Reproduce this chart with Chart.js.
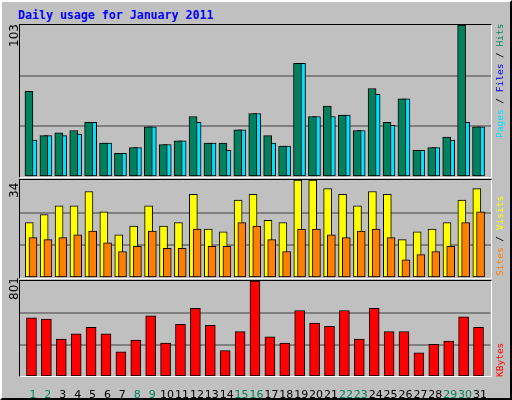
<!DOCTYPE html>
<html><head><meta charset="utf-8">
<script src="https://cdn.jsdelivr.net/npm/chart.js@4"></script>
<style>
html,body{margin:0;padding:0;background:#C0C0C0;}
#wrap{position:relative;width:508px;height:396px;border:2px solid;border-color:#fff #000 #000 #fff;background:#C0C0C0;overflow:hidden}
.panel{position:absolute;}
.rot{position:absolute;transform-origin:0 0;transform:rotate(-90deg);white-space:nowrap;line-height:1}
.frame{position:absolute;border-style:solid;border-width:1px;border-color:#000 #fff #fff #000;box-sizing:border-box;pointer-events:none}
</style></head><body>
<div id="wrap">
<div style="position:absolute;left:16px;top:6px;font:bold 11.6px 'DejaVu Sans Mono';color:#0000FF">Daily usage for January 2011</div>
<div class="panel" style="left:18px;top:23px;width:471px;height:152px"><canvas id="c1"></canvas></div>
<div class="panel" style="left:18px;top:178px;width:471px;height:98px"><canvas id="c2"></canvas></div>
<div class="panel" style="left:18px;top:279px;width:471px;height:119px"><canvas id="c3"></canvas></div>
<div class="frame" style="left:17px;top:22px;width:473px;height:154px"></div>
<div class="frame" style="left:17px;top:177px;width:473px;height:100px"></div>
<div class="frame" style="left:17px;top:278px;width:473px;height:97px"></div>
<div class="rot" style="left:5px;top:45px;font:12px 'DejaVu Sans';color:#000">103</div>
<div class="rot" style="left:5px;top:196px;font:12px 'DejaVu Sans';color:#000">34</div>
<div class="rot" style="left:5px;top:298px;font:12px 'DejaVu Sans';color:#000">801</div>
<div class="rot" style="left:492px;top:136px;font:9.5px 'DejaVu Sans Mono'"><span style="color:#00E0FF">Pages</span><span style="color:#000"> / </span><span style="color:#0000FF">Files</span><span style="color:#000"> / </span><span style="color:#00805C">Hits</span></div>
<div class="rot" style="left:492px;top:274px;font:9.5px 'DejaVu Sans Mono'"><span style="color:#FF8000">Sites</span><span style="color:#000"> / </span><span style="color:#FFFF00">Visits</span></div>
<div class="rot" style="left:492px;top:375px;font:9.5px 'DejaVu Sans Mono';color:#FF0000">KBytes</div>
</div>
<script>
const days=['1','2','3','4','5','6','7','8','9','10','11','12','13','14','15','16','17','18','19','20','21','22','23','24','25','26','27','28','29','30','31'];
const weekend=[1,2,8,9,15,16,22,23,29,30];
const hits=[58,28,30,31.5,37,23,16,20,34,22,24.5,41,23,23,32,43,28,21,77,41,48,42,31.5,60,37,53,18,20,27,103,34];
const files=[25,28,28,29,37,23,16,20,34,22,24.5,37,23,18,32,43,23,21,77,41,41,42,31.5,56,35,53,18,20,25,37,34];
const pages=[23,25,24.5,27,32,23,15,17.5,28,19.6,21,30,21,16,26.6,38.5,21,19.6,33.6,30,29.4,30,22.4,43.5,23,16,16,19.6,21,32,30];
const visits=[19.2,22,25,25,30,23,15,18,25,18,19.2,29,17,16,27,29,20,19.2,34,34,31,29,25,30,29,13.3,16,17,19.2,27,31];
const sites=[14,13.3,14,15,16.3,12.2,9.2,11,16.3,10.3,10.3,17,11,11,19.2,18,13.3,9.2,17,17,15,14,16.3,17,14,6.3,8.1,9.2,11,19.2,23];
const kbytes=[493,484,317,361,414,361,211,308,511,282,440,572,431,220,379,801,335,282,555,449,423,555,317,572,379,379,202,273,299,502,414];
const yMax=[103,34,801];

const pts=(arr,off)=>arr.map((v,i)=>({x:i+1+off,y:v}));
const ds=(arr,off,color,w)=>({data:pts(arr,off),backgroundColor:color,borderColor:'#000',borderWidth:1,borderSkipped:false,barThickness:w,grouped:false});
function mk(id,datasets,max,showX){
  return new Chart(document.getElementById(id),{type:'bar',data:{datasets},
    options:{responsive:true,maintainAspectRatio:false,animation:false,
      layout:{padding:0},
      plugins:{legend:{display:false},tooltip:{enabled:false}},
      scales:{
        x:{type:'linear',min:0.13,max:31.7,display:showX,offset:false,
           grid:{display:false},border:{display:false},
           afterBuildTicks:s=>{s.ticks=days.map((d,i)=>({value:i+1}));},
           afterFit:s=>{if(showX)s.height=23;},
           ticks:{autoSkip:false,maxRotation:0,padding:4,font:{family:'DejaVu Sans',size:11},
             callback:(v)=>days[v-1],
             color:(c)=>weekend.includes(c.tick.value)?'#00805C':'#000'}},
        y:{min:0,max:max,afterBuildTicks:s=>{s.ticks=[{value:0},{value:max/3},{value:2*max/3},{value:max}];},
           afterFit:s=>{s.width=0;},
           ticks:{display:false},border:{display:false},
           grid:{color:(c)=>(c.tick.value>0&&c.tick.value<max-0.01)?'#808080':'rgba(0,0,0,0)',lineWidth:2,drawTicks:false}}
      }}});
}
mk('c1',[ds(pages,-0.3,'#0000FF',2),ds(files,0,'#00E0FF',8),ds(hits,-0.27,'#00805C',8)].reverse().map((d,i,a)=>d),yMax[0],false);
// ensure draw order: hits first, files, pages on top
</script>
<script>
Chart.getChart('c1').data.datasets.forEach((d,i)=>d.order=[1,2,3][i]);
Chart.getChart('c1').update();
mk('c2',[ds(sites,0,'#FF8000',8),ds(visits,-0.25,'#FFFF00',8)],yMax[1],false);
mk('c3',[ds(kbytes,-0.1,'#FF0000',10)],yMax[2],true);
</script>
</body></html>
